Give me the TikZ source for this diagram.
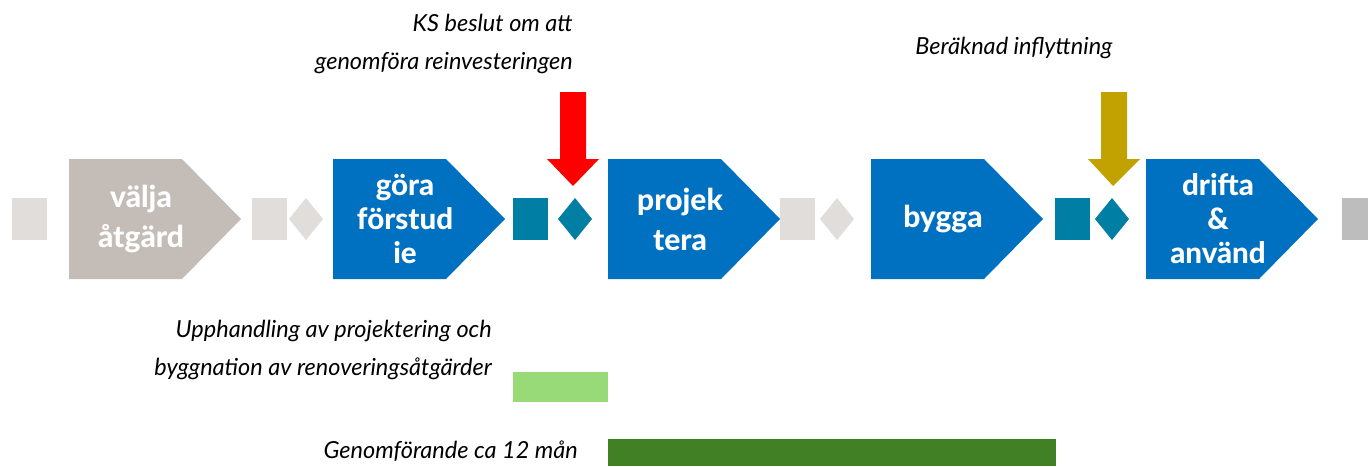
\documentclass[tikz,border=0pt]{standalone}
\usepackage{fontspec}
\setmainfont{Lato}
\IfFontExistsTF{Lato Heavy}{\newfontfamily\heavyfont{Lato Heavy}}{%
  \IfFontExistsTF{Lato Black}{\newfontfamily\heavyfont{Lato Black}}{\newfontfamily\heavyfont{Lato}[UprightFont=*,UprightFeatures={FakeBold=1.2}]}}
\definecolor{lgray}{HTML}{E0DDDA}
\definecolor{stone}{HTML}{C4BDB7}
\definecolor{pblue}{HTML}{0070C0}
\definecolor{tealx}{HTML}{007EA3}
\definecolor{goldx}{HTML}{C2A200}
\definecolor{mgray}{HTML}{BDBDBD}
\definecolor{lgreen}{HTML}{98DA78}
\definecolor{dgreen}{HTML}{428026}
\newcommand\phasebox[5]{%
  \fill[#2] (#1,159) -- ++(113,0) -- ++(59,60) -- ++(-59,60) -- ++(-113,0) -- cycle;
  \node[phaselabel,#5] (#3) at (#1+72,219) {#4};}
\newcommand\sqbox[3]{\fill[#2] (#1,198) rectangle ++(35,42);}
\newcommand\dmbox[2]{\fill[#2] (#1,198) -- ++(17,21) -- ++(-17,21) -- ++(-17,-21) -- cycle;}
\begin{document}
\begin{tikzpicture}[x=1pt,y=-1pt,
  phaselabel/.style={text=white,font=\heavyfont\fontsize{30}{40}\selectfont,align=center,inner sep=0pt},
  threeline/.style={font=\heavyfont\fontsize{29.5}{34}\selectfont},
  note/.style={font=\itshape\fontsize{23.5}{38}\selectfont,inner sep=0pt,text=black}]
\useasboundingbox (0,0) rectangle (1368,466);
% start / separators
\sqbox{12}{lgray}{}
\phasebox{69}{stone}{valja}{välja\\åtgärd}{}
\sqbox{252}{lgray}{}
\dmbox{306}{lgray}
\phasebox{333}{pblue}{gora}{göra\\förstud\\ie}{threeline}
\sqbox{513}{tealx}{}
\dmbox{575}{tealx}
\phasebox{608}{pblue}{projek}{projek\\tera}{}
\sqbox{780}{lgray}{}
\dmbox{837}{lgray}
\phasebox{871}{pblue}{bygga}{bygga}{}
\sqbox{1055}{tealx}{}
\dmbox{1112}{tealx}
\phasebox{1146}{pblue}{drifta}{drifta\\\&\\använd}{threeline}
\fill[mgray] (1342,198) rectangle (1368,240);
% milestone arrows
\fill[red] (560,92) -- (586,92) -- (586,159) -- (599,159) -- (573,186) -- (547,159) -- (560,159) -- cycle;
\fill[goldx] (1101,92) -- (1127,92) -- (1127,159) -- (1140,159) -- (1113,186) -- (1088,159) -- (1101,159) -- cycle;
% notes
\node[note,align=right,anchor=east] (ks) at (573,44) {KS beslut om att\\genomföra reinvesteringen};
\node[note] (infl) at (1014,48) {Beräknad inflyttning};
\node[note,align=right,anchor=east] (upph) at (492,350) {Upphandling av projektering och\\byggnation av renoveringsåtgärder};
\node[note,anchor=east] (genom) at (578,451) {Genomförande ca 12 mån};
% bars
\fill[lgreen] (513,372) rectangle (608,402);
\fill[dgreen] (608,439) rectangle (1056,466);
\end{tikzpicture}
\end{document}
